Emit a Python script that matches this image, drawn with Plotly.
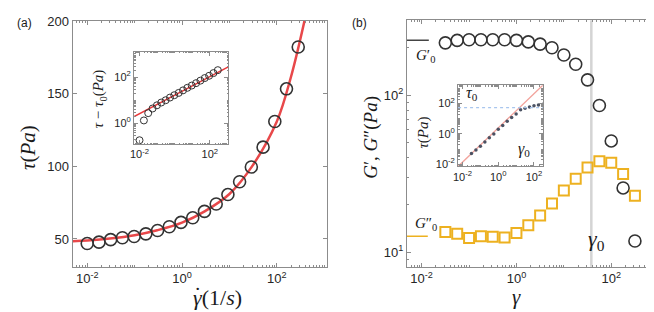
import plotly.graph_objects as go

# ---------------- data: panel (a) ----------------
shear_rate = [0.01, 0.0177, 0.0312, 0.0552, 0.0976, 0.1725, 0.305, 0.539, 0.952, 1.683,
              2.975, 5.26, 9.29, 16.4, 29.0, 51.3, 90.7, 160, 283]
stress = [46.9, 47.8, 49.5, 50.8, 51.7, 53.5, 55.8, 58.4, 61.4, 64.6,
          69.0, 74.1, 80.6, 89.4, 99.6, 113.3, 131.0, 153.5, 182.3]
fit_rate = [0.005, 0.01, 0.03, 0.1, 0.3, 1, 3, 10, 30, 100, 200, 400]
fit_stress = [48.5, 49.0, 50.3, 52.6, 56.0, 61.2, 69.0, 81.0, 100.0, 131.0, 162.0, 203.0]
excess_stress = [0.18, 1.3, 2.7, 4.3, 5.9, 7.8, 9.8, 12.8, 16.2, 20.4,
                 26.3, 34, 42.5, 54, 69.5, 90, 113, 148, 198]
excess_fit_rate = [0.0049, 1120]
excess_fit_stress = [1.93, 275]

# ---------------- data: panel (b) ----------------
strain = [0.0316, 0.0562, 0.1, 0.178, 0.316, 0.562, 1, 1.78, 3.16, 5.62,
          10, 17.8, 31.6, 56.2, 100, 178, 316]
G_storage = [215, 223, 225, 225, 225, 225, 223, 218, 211, 200,
             180, 157, 125, 85.8, 51, 25.6, 11.75]
G_loss = [13.4, 13.1, 12.3, 12.6, 12.5, 12.4, 13.2, 14.8, 17.1, 20.4,
          24.7, 29.3, 34.5, 37.9, 37.1, 31.4, 22.8]
G0_storage = 223
G0_loss = 12.6
gamma0 = 38
inset_stress = [0.050, 0.087, 0.155, 0.295, 0.55, 1.0, 2.0, 3.55, 6.8, 12.0,
                20.4, 38.9, 50, 60, 71, 81, 91]
tau0 = 55
linear_fit_strain = [0.0056, 316]
linear_fit_stress = [0.0071, 1660]

W, H = 654, 312
def px(x):
    return x / W
def py(y):
    return 1 - y / H

SANS = "Liberation Sans"
SERIF = "Liberation Serif"
FRAME = "#8c8c8c"

def minor_vals(lo, hi, skip):
    out = []
    for e in range(lo, hi + 1):
        if e not in skip:
            out.append(10 ** e)
        for k in range(2, 10):
            out.append(k * 10 ** e)
    return out

def base_axis(size=13):
    return dict(showline=True, linecolor=FRAME, linewidth=1, mirror="ticks",
                ticks="inside", ticklen=4, tickcolor=FRAME, tickwidth=1,
                showgrid=False, zeroline=False, ticklabeloverflow="allow",
                tickfont=dict(family=SANS, size=size, color="#262626"))

def log_axis(rng, labeled, lo, hi, size=13, dom=None, anchor=None, minorlen=2):
    d = base_axis(size)
    d.update(type="log", range=rng, tickmode="array",
             tickvals=[10 ** e for e in labeled],
             ticktext=[f"10<sup>{e}</sup>" for e in labeled],
             minor=dict(tickvals=minor_vals(lo, hi, labeled), ticks="inside", ticklen=minorlen,
                        tickcolor=FRAME, tickwidth=1),
             domain=dom, anchor=anchor)
    return d

fig = go.Figure()

# panel (a) main
fig.add_trace(go.Scatter(x=fit_rate, y=fit_stress, mode="lines", line=dict(color="#e8484a", width=2.5, shape="spline"),
                         xaxis="x", yaxis="y", showlegend=False))
fig.add_trace(go.Scatter(x=shear_rate, y=stress, mode="markers",
                         marker=dict(symbol="circle-open", size=12, color="#333333", line=dict(width=1.6)),
                         xaxis="x", yaxis="y", showlegend=False))
# panel (a) inset
fig.add_trace(go.Scatter(x=excess_fit_rate, y=excess_fit_stress, mode="lines", line=dict(color="#e8383a", width=1.5),
                         xaxis="x3", yaxis="y3", showlegend=False))
fig.add_trace(go.Scatter(x=shear_rate, y=excess_stress, mode="markers",
                         marker=dict(symbol="circle-open", size=7, color="#333333", line=dict(width=1)),
                         xaxis="x3", yaxis="y3", showlegend=False))

# panel (b) main
fig.add_trace(go.Scatter(x=strain, y=G_storage, mode="markers",
                         marker=dict(symbol="circle-open", size=12, color="#333333", line=dict(width=1.6)),
                         xaxis="x2", yaxis="y2", showlegend=False))
fig.add_trace(go.Scatter(x=strain, y=G_loss, mode="markers",
                         marker=dict(symbol="square-open", size=10, color="#EDB120", line=dict(width=2)),
                         xaxis="x2", yaxis="y2", showlegend=False))
# panel (b) inset
fig.add_trace(go.Scatter(x=linear_fit_strain, y=linear_fit_stress, mode="lines",
                         line=dict(color="#f2a39c", width=1.3),
                         xaxis="x4", yaxis="y4", showlegend=False))
fig.add_trace(go.Scatter(x=strain, y=inset_stress, mode="markers",
                         marker=dict(symbol="circle", size=3.5, color="#4b5263", line=dict(width=0)),
                         xaxis="x4", yaxis="y4", showlegend=False))

shapes = [
    dict(type="line", xref="x2", yref="y2 domain", x0=gamma0, x1=gamma0, y0=0, y1=1,
         line=dict(color="#d4d4d4", width=2.5), layer="below"),
    dict(type="line", xref="x2 domain", yref="y2", x0=0, x1=0.086, y0=G0_storage, y1=G0_storage,
         line=dict(color="#444444", width=1.5)),
    dict(type="line", xref="x2 domain", yref="y2", x0=0, x1=0.082, y0=G0_loss, y1=G0_loss,
         line=dict(color="#EDB120", width=1.5)),
    dict(type="line", xref="x4", yref="y4 domain", x0=gamma0, x1=gamma0, y0=0, y1=1,
         line=dict(color="#d4d4d4", width=1.2), layer="below"),
    dict(type="line", xref="x4 domain", yref="y4", x0=0, x1=1, y0=tau0, y1=tau0,
         line=dict(color="#a9c6ee", width=1.3, dash="dot")),
]

def ann(text, x, y, size, family=SERIF, angle=0, color="#1a1a1a", xanchor="center"):
    return dict(text=text, x=px(x), y=py(y), xref="paper", yref="paper", showarrow=False,
                xanchor=xanchor, yanchor="middle", textangle=angle,
                font=dict(family=family, size=size, color=color))

annotations = [
    ann("(a)", 12, 8, 12, SANS),
    ann("(b)", 349, 8, 12, SANS),
    ann("<i>τ</i>(<i>Pa</i>)", 15, 137, 21, angle=-90),
    ann("<i>γ</i>(1/<i>s</i>)", 206, 293, 22),
    ann("˙", 186, 290, 22),
    ann("<i>τ</i> − <i>τ</i><sub>0</sub>(<i>Pa</i>)", 87, 87, 15, angle=-90),
    ann("<i>G</i>′, <i>G</i>″(<i>Pa</i>)", 360, 127, 19, angle=-90),
    ann("<i>γ</i>", 507, 292, 21),
    ann("<i>G</i>′<sub>0</sub>", 416, 43, 15),
    ann("<i>G</i>″<sub>0</sub>", 416, 217, 15),
    ann("<i>γ</i><sub>0</sub>", 588, 233, 22),
    ann("<i>τ</i><sub>0</sub>", 463, 81, 16),
    ann("<i>γ</i><sub>0</sub>", 515, 139, 16),
    ann("<i>τ</i>(<i>Pa</i>)", 414, 122, 15, angle=-90),
]

xa = log_axis([-2.31, 3.05], [-2, 0, 2], -3, 3, 13, [px(60), px(316)], "y")
ya = base_axis(13)
ya.update(range=[30.8, 200.4], tickmode="array", tickvals=[50, 100, 150, 200],
          domain=[py(261), py(6)], anchor="x")

xa2 = log_axis([-2.31, 3.05], [-2, 0, 2], -3, 3, 13, [px(397), px(653)], "y2")
ya2 = log_axis([0.906, 2.476], [1, 2], 0, 2, 13, [py(261), py(5.5)], "x2")

xa3 = log_axis([-2.31, 3.05], [-2, 2], -3, 3, 11, [px(122), px(217)], "y3", 1.5)
ya3 = log_axis([-0.92, 3.1], [0, 2], -1, 3, 11, [py(134), py(38)], "x3", 1.5)

xa4 = log_axis([-2.25, 2.5], [-2, 0, 2], -3, 2, 11, [px(448.5), px(534)], "y4", 1.5)
ya4 = log_axis([-2.15, 3.22], [-2, 0, 2], -3, 3, 11, [py(157), py(72.7)], "x4", 1.5)

fig.update_layout(
    width=W, height=H, margin=dict(l=0, r=0, t=0, b=0),
    paper_bgcolor="white", plot_bgcolor="white",
    xaxis=xa, yaxis=ya, xaxis2=xa2, yaxis2=ya2,
    xaxis3=xa3, yaxis3=ya3, xaxis4=xa4, yaxis4=ya4,
    shapes=shapes, annotations=annotations, showlegend=False,
)

fig.write_html("out.html")
